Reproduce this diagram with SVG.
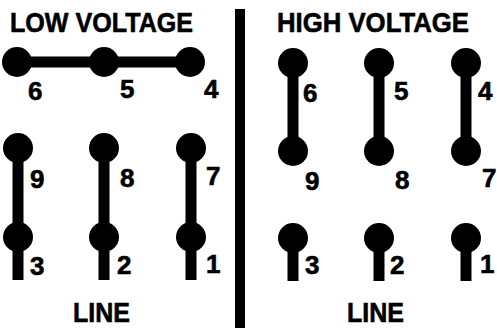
<svg xmlns="http://www.w3.org/2000/svg" width="497" height="328" viewBox="0 0 497 328">
<style>
.t{font-family:"Liberation Sans",Arial,sans-serif;font-weight:bold;fill:#000;stroke:#000;stroke-width:0.6}
.h{font-size:28px}
.n{font-size:26px}
.bar{stroke:#000;stroke-width:11;fill:none}
.term{fill:#000}
</style>
<rect width="497" height="328" fill="#fff"/>
<rect x="235" y="9" width="10" height="319" fill="#000"/>
<text class="t h" x="10" y="32" textLength="183" lengthAdjust="spacingAndGlyphs">LOW VOLTAGE</text>
<text class="t h" x="277" y="32" textLength="192" lengthAdjust="spacingAndGlyphs">HIGH VOLTAGE</text>
<text class="t h" x="73" y="322" textLength="57" lengthAdjust="spacingAndGlyphs">LINE</text>
<text class="t h" x="347" y="322" textLength="57" lengthAdjust="spacingAndGlyphs">LINE</text>
<g id="connectors">
<line class="bar" x1="17" y1="62" x2="190" y2="62"/>
<line class="bar" x1="18" y1="148" x2="18" y2="280"/>
<line class="bar" x1="104" y1="148" x2="104" y2="280"/>
<line class="bar" x1="191" y1="148" x2="191" y2="280"/>
<line class="bar" x1="293" y1="63" x2="293" y2="151"/>
<line class="bar" x1="379" y1="63" x2="379" y2="151"/>
<line class="bar" x1="466" y1="63" x2="466" y2="151"/>
<line class="bar" x1="293" y1="238" x2="293" y2="281"/>
<line class="bar" x1="379" y1="238" x2="379" y2="281"/>
<line class="bar" x1="466" y1="238" x2="466" y2="281"/>
</g>
<g id="lv6"><circle class="term" cx="17" cy="62" r="15"/><text class="t n" x="28" y="100">6</text></g>
<g id="lv5"><circle class="term" cx="104" cy="62" r="15"/><text class="t n" x="120" y="98">5</text></g>
<g id="lv4"><circle class="term" cx="190" cy="62" r="15"/><text class="t n" x="204" y="98">4</text></g>
<g id="lv9"><circle class="term" cx="18" cy="148" r="15"/><text class="t n" x="30" y="188">9</text></g>
<g id="lv8"><circle class="term" cx="104" cy="148" r="15"/><text class="t n" x="120" y="187">8</text></g>
<g id="lv7"><circle class="term" cx="191" cy="148" r="15"/><text class="t n" x="206" y="185">7</text></g>
<g id="lv3"><circle class="term" cx="18" cy="237" r="15"/><text class="t n" x="30" y="275">3</text></g>
<g id="lv2"><circle class="term" cx="104" cy="237" r="15"/><text class="t n" x="117" y="274">2</text></g>
<g id="lv1"><circle class="term" cx="191" cy="237" r="15"/><text class="t n" x="206" y="273">1</text></g>
<g id="hv6"><circle class="term" cx="293" cy="63" r="15"/><text class="t n" x="303" y="102">6</text></g>
<g id="hv5"><circle class="term" cx="379" cy="63" r="15"/><text class="t n" x="394" y="100">5</text></g>
<g id="hv4"><circle class="term" cx="466" cy="63" r="15"/><text class="t n" x="478" y="100">4</text></g>
<g id="hv9"><circle class="term" cx="293" cy="151" r="15"/><text class="t n" x="305" y="190">9</text></g>
<g id="hv8"><circle class="term" cx="379" cy="151" r="15"/><text class="t n" x="395" y="189">8</text></g>
<g id="hv7"><circle class="term" cx="466" cy="151" r="15"/><text class="t n" x="482" y="187">7</text></g>
<g id="hv3"><circle class="term" cx="293" cy="238" r="15"/><text class="t n" x="305" y="274">3</text></g>
<g id="hv2"><circle class="term" cx="379" cy="238" r="15"/><text class="t n" x="390" y="274">2</text></g>
<g id="hv1"><circle class="term" cx="466" cy="238" r="15"/><text class="t n" x="480" y="273">1</text></g>
</svg>
